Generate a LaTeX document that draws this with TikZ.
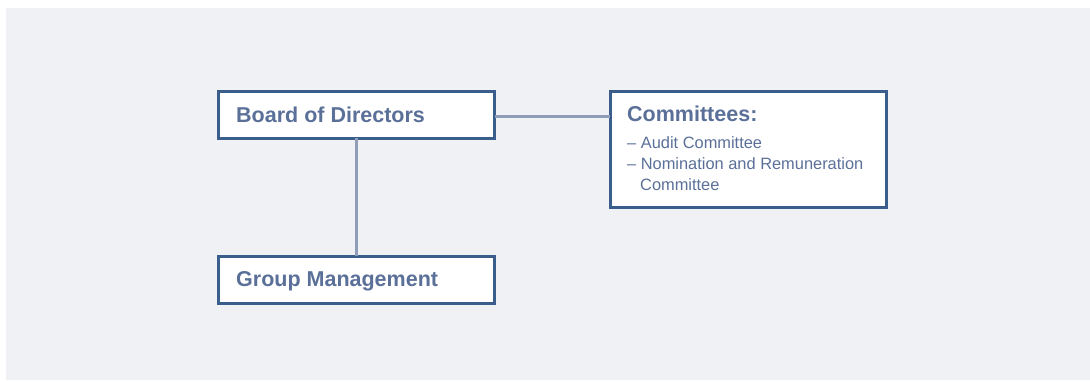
\documentclass[tikz,border=0pt]{standalone}
\usepackage{fontspec}
\setmainfont{Liberation Sans}
\definecolor{bgc}{RGB}{240,241,245}
\definecolor{boxc}{RGB}{58,94,140}
\definecolor{linec}{RGB}{143,157,185}
\definecolor{txtc}{RGB}{91,112,152}
\begin{document}
\begin{tikzpicture}[x=1pt,y=-1pt,
  box/.style={draw=boxc,line width=2.8pt,fill=white,inner sep=0pt,outer sep=0pt,anchor=north west},
  title/.style={anchor=base west,inner sep=0pt,text=txtc,font=\fontsize{21.5}{26}\selectfont\bfseries},
  item/.style={anchor=base west,inner sep=0pt,text=txtc,font=\fontsize{16.4}{20}\selectfont},
  conn/.style={draw=linec,line width=3pt}]
\useasboundingbox (0,0) rectangle (1090,381);
\fill[bgc] (6,8) rectangle (1090,380);
\coordinate (hl) at (495,116);
\node[box,minimum width=276pt,minimum height=47pt] (board) at (218.4,91.4) {};
\node[box,minimum width=276pt,minimum height=116pt] (comm) at (610.4,91.4) {};
\node[box,minimum width=276pt,minimum height=47pt] (group) at (218.4,256.4) {};
\draw[conn] (hl) -- (hl -| comm.west);
\draw[conn] (board.south) -- (group.north);
\node[title] (tboard) at (236,122) {Board of Directors};
\node[title] (tgroup) at (236,286.5) {Group Management};
\node[title] (tcomm) at (627,121.5) {Committees:};
\node[item] (i1) at (627,148) {– Audit Committee};
\node[item] (i2) at (627,169) {– Nomination and Remuneration};
\node[item] (i3) at (640,190) {Committee};
\end{tikzpicture}
\end{document}
